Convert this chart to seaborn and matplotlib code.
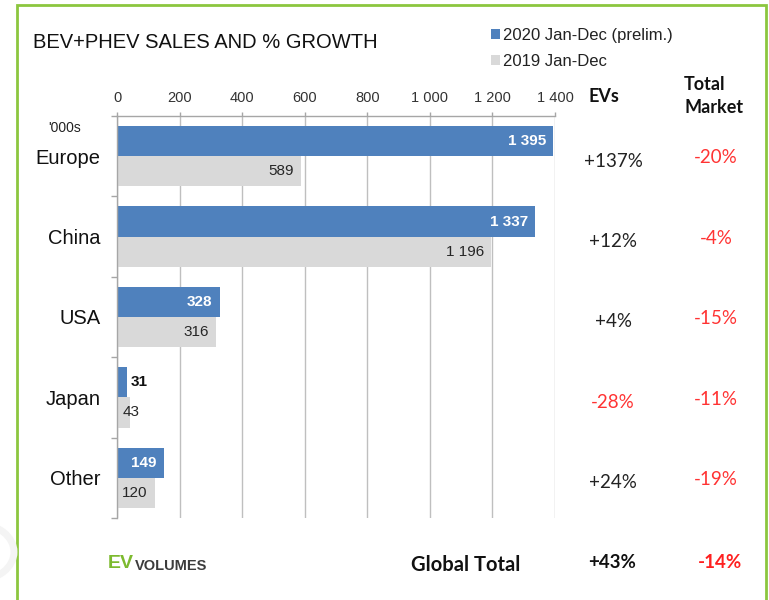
import numpy as np
import pandas as pd
import matplotlib
matplotlib.use('Agg')
import matplotlib.pyplot as plt
import matplotlib.transforms as mtransforms
from matplotlib.patches import Rectangle, Circle
import seaborn as sns

# data
regions = ['Europe', 'China', 'USA', 'Japan', 'Other']
sales_2020 = [1395, 1337, 328, 31, 149]
sales_2019 = [589, 1196, 316, 43, 120]
ev_growth = ['+137%', '+12%', '+4%', '-28%', '+24%']
market_growth = ['-20%', '-4%', '-15%', '-11%', '-19%']
series_names = ['2020 Jan-Dec (prelim.)', '2019 Jan-Dec']
x_ticks = [0, 200, 400, 600, 800, 1000, 1200, 1400]
global_ev = '+43%'
global_market = '-14%'

df = pd.DataFrame({
    'region': regions * 2,
    'sales': sales_2020 + sales_2019,
    'series': [series_names[0]] * 5 + [series_names[1]] * 5,
})

sns.set_theme(style='white')
sans = ['Liberation Sans', 'DejaVu Sans']
calib = ['Lato', 'Open Sans', 'DejaVu Sans']
plt.rcParams['font.family'] = sans

W, H = 769, 600
fx = lambda px: px / W
fy = lambda py: 1 - py / H

fig = plt.figure(figsize=(7.69, 6.0), dpi=100)
ax = fig.add_axes([fx(117), fy(518), fx(555) - fx(117), fy(116) - fy(518)])

blue = '#4F81BD'
grey = '#D9D9D9'
sns.barplot(data=df, x='sales', y='region', hue='series', orient='h',
            palette=[blue, grey], width=0.75, ax=ax, legend=True,
            edgecolor='none', saturation=1)

ax.set_xlim(0, 1400)
ax.set_xticks(x_ticks)
ax.set_xticklabels([f'{v:,}'.replace(',', ' ') for v in x_ticks], fontsize=10.5, color='#333333')
ax.xaxis.tick_top()
ax.tick_params(axis='x', top=True, length=3, width=1, color='#A6A6A6', pad=5)
ax.grid(axis='x', color='#BFBFBF', lw=1)
ax.set_axisbelow(True)
ax.set_xlabel('')
ax.set_ylabel('')

ax.tick_params(axis='y', length=0, pad=12, labelsize=14.5, labelcolor='#111111')
ax.set_yticks(np.arange(-0.5, 5.0, 1.0), minor=True)
ax.tick_params(axis='y', which='minor', left=True, length=4, width=1, color='#A6A6A6')

for s in ['right', 'bottom']:
    ax.spines[s].set_visible(False)
for s in ['top', 'left']:
    ax.spines[s].set_color('#A6A6A6')
    ax.spines[s].set_linewidth(1)

# bar value labels
fmt = lambda v: f'{int(v):,}'.replace(',', ' ')
for i, cont in enumerate(ax.containers):
    for bar in cont:
        v = bar.get_width()
        yc = bar.get_y() + bar.get_height() / 2
        if i == 0:
            if v > 60:
                ax.annotate(fmt(v), (v, yc), xytext=(-5, 0), textcoords='offset points',
                            ha='right', va='center', color='white', fontsize=11, fontweight='bold')
            else:
                ax.annotate(fmt(v), (v, yc), xytext=(3, 0), textcoords='offset points',
                            ha='left', va='center', color='#111111', fontsize=11, fontweight='bold')
        else:
            if v > 60:
                ax.annotate(fmt(v), (v, yc), xytext=(-5, 0), textcoords='offset points',
                            ha='right', va='center', color='#262626', fontsize=11)
            else:
                ax.annotate(fmt(v), (0, yc), xytext=(4, 0), textcoords='offset points',
                            ha='left', va='center', color='#262626', fontsize=11)

# legend
leg = ax.legend(loc='upper left', bbox_to_anchor=(fx(484), fy(21)),
                bbox_transform=fig.transFigure, frameon=False, fontsize=12,
                handlelength=0.55, handleheight=0.55, handletextpad=0.2,
                labelspacing=0.7, borderaxespad=0)
for t in leg.get_texts():
    t.set_color('#222222')

# texts
fig.text(fx(33), fy(42), 'BEV+PHEV SALES AND % GROWTH', fontsize=14.5, va='center', ha='left', color='#111111')
fig.text(fx(48), fy(128), "'000s", fontsize=10, va='center', ha='left', color='#222222')

fig.text(fx(589), fy(97), 'EVs', family=calib, fontweight='bold', fontsize=13, va='center', ha='left', color='#111111')
fig.text(fx(684), fy(96), 'Total\nMarket', family=calib, fontweight='bold', fontsize=13, va='center', ha='left',
         color='#111111', linespacing=1.45)

tr = mtransforms.blended_transform_factory(fig.transFigure, ax.transData)
for k in range(len(regions)):
    c = '#FF3333' if ev_growth[k].startswith('-') else '#222222'
    ax.text(fx(613), k + 0.06, ev_growth[k], transform=tr, family=calib, fontsize=13.5, ha='center', va='center', color=c)
    ax.text(fx(716), k + 0.02, market_growth[k], transform=tr, family=calib, fontsize=13.5, ha='center', va='center', color='#FF3333')

fig.text(fx(466), fy(565), 'Global Total', family=calib, fontweight='bold', fontsize=14.5, ha='center', va='center', color='#111111')
fig.text(fx(612), fy(562), global_ev, family=calib, fontweight='bold', fontsize=13.5, ha='center', va='center', color='#111111')
fig.text(fx(720), fy(562), global_market, family=calib, fontweight='bold', fontsize=13.5, ha='center', va='center', color='#FF2020')

fig.text(fx(108), fy(563), 'EV', fontweight='bold', fontsize=14, ha='left', va='center', color='#7DBA2F')
fig.text(fx(135), fy(566), 'VOLUMES', fontweight='bold', fontsize=10.5, ha='left', va='center', color='#3C3C3C')

# green frame and faint watermark arc
fig.patches.append(Rectangle((fx(17), -0.05), fx(766) - fx(17), fy(5) + 0.05,
                             transform=fig.transFigure, fill=False, edgecolor='#8CC63F', lw=2))
fig.patches.append(Circle((fx(-22), fy(552)), fx(36), transform=fig.transFigure,
                          fill=False, edgecolor='#F4F4F4', lw=5))

fig.savefig('out.png', dpi=100)
